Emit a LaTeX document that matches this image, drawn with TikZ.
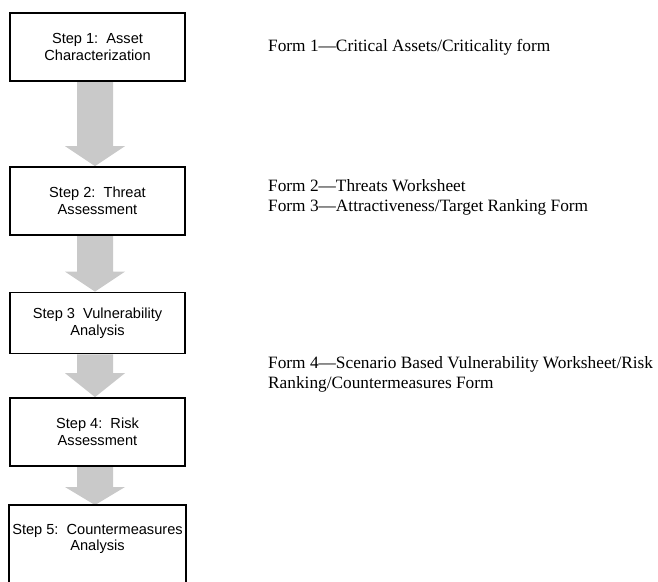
\documentclass[tikz,border=0pt]{standalone}
\usepackage{fontspec}
\setmainfont{Liberation Serif}
\newfontfamily\boxfont{Liberation Sans}
\usetikzlibrary{backgrounds}
\tikzset{
  stepbox/.style={draw=black, line width=1.8pt, fill=white, minimum width=175pt,
    align=center, inner sep=0pt, font=\boxfont\fontsize{14.6}{16.5}\selectfont},
  boxborder/.style={draw=black, line width=1.8pt},
  formtext/.style={anchor=base west, inner sep=0pt, font=\fontsize{17.3}{20}\selectfont},
  arrowfill/.style={fill=gray!42},
}
\newcommand\fatarrow[3]{%
  \fill[arrowfill] ([xshift=-20.5pt]#1.south) -- ([xshift=-20.5pt,yshift=#3]#2.north)
    -- ([xshift=-32.5pt,yshift=#3]#2.north) -- ([xshift=-2.5pt]#2.north)
    -- ([xshift=27.5pt,yshift=#3]#2.north) -- ([xshift=15.5pt,yshift=#3]#2.north)
    -- ([xshift=15.5pt]#1.south) -- cycle;}
\begin{document}
\begin{tikzpicture}[x=1pt,y=-1pt]
\useasboundingbox (0,0) rectangle (658,581);
\clip (0,0) rectangle (658,581);
\node[stepbox, minimum height=68pt] (b1) at (97.5,47) {Step 1:\ \ Asset\\Characterization};
\node[stepbox, minimum height=68pt] (b2) at (97.5,201) {Step 2:\ \ Threat\\Assessment};
\node[stepbox, minimum height=61pt] (b3) at (97.5,323) {Step 3\ \ Vulnerability\\Analysis};
\node[stepbox, minimum height=68pt] (b4) at (97.5,432) {Step 4:\ \ Risk\\Assessment};
\node[stepbox, draw=none, fill=none, minimum height=66pt, anchor=north] (b5) at (97.5,505) {Step 5:\ \ Countermeasures\\Analysis};
\draw[boxborder] ([yshift=-40pt]b5.south west) -- (b5.north west) -- (b5.north east) -- ([yshift=-40pt]b5.south east);
\begin{scope}[on background layer]
  \fatarrow{b1}{b2}{20pt}
  \fatarrow{b2}{b3}{20pt}
  \fatarrow{b3}{b4}{24pt}
  \fatarrow{b4}{b5}{18pt}
\end{scope}
\node[formtext] (f1) at (268,51) {Form 1---Critical Assets/Criticality form};
\node[formtext] (f2) at (268,191) {Form 2---Threats Worksheet};
\node[formtext] (f3) at (268,211.5) {Form 3---Attractiveness/Target Ranking Form};
\node[formtext] (f4a) at (268,368) {Form 4---Scenario Based Vulnerability Worksheet/Risk};
\node[formtext] (f4b) at (268,388) {Ranking/Countermeasures Form};
\end{tikzpicture}
\end{document}
